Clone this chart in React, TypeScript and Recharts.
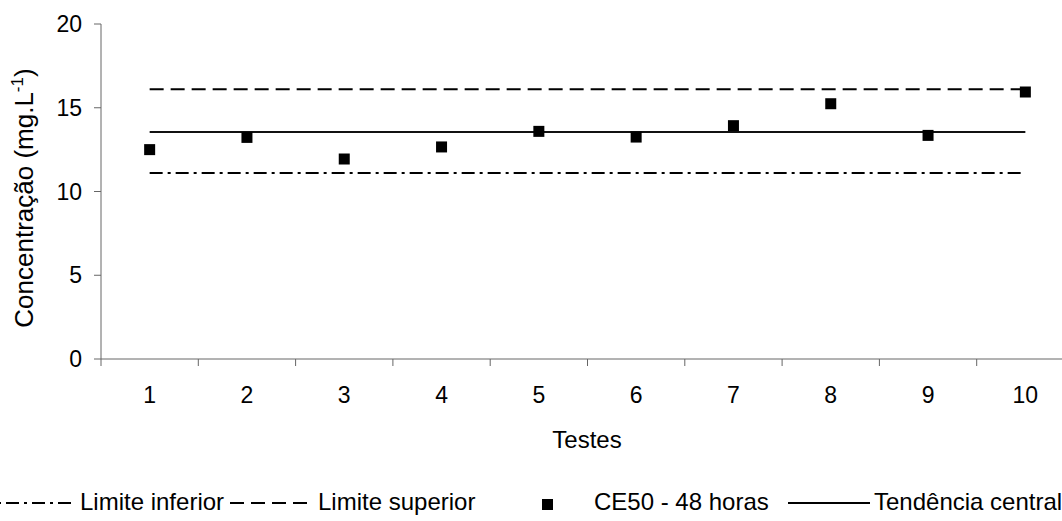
import React from "react";
import { ComposedChart, Line, XAxis, YAxis } from "recharts";

const testes = [1, 2, 3, 4, 5, 6, 7, 8, 9, 10];
const ce50 = [12.5, 13.23, 11.94, 12.66, 13.59, 13.25, 13.93, 15.24, 13.35, 15.94];
const limiteInferior = [11.1, 11.1, 11.1, 11.1, 11.1, 11.1, 11.1, 11.1, 11.1, 11.1];
const limiteSuperior = [16.1, 16.1, 16.1, 16.1, 16.1, 16.1, 16.1, 16.1, 16.1, 16.1];
const tendenciaCentral = [13.55, 13.55, 13.55, 13.55, 13.55, 13.55, 13.55, 13.55, 13.55, 13.55];
const yTicks = [0, 5, 10, 15, 20];
// tick marks sit between the tests, like the original
const xBounds = [0.5, 1.5, 2.5, 3.5, 4.5, 5.5, 6.5, 7.5, 8.5, 9.5, 10.5];

const data = testes.map((t, i) => ({
  teste: t,
  ce50: ce50[i],
  inferior: limiteInferior[i],
  superior: limiteSuperior[i],
  central: tendenciaCentral[i],
}));

const FONT = "'Liberation Sans', Arial, sans-serif";
const FS = 23;
const HALF_BAND = 48.65;
const DASH_DOT = "13 5 3 5";
const DASHED = "14 7";

const XTick = (props: any) => {
  const { x, y, index } = props;
  if (index >= testes.length) return <g />;
  return (
    <text x={x + HALF_BAND} y={y} dy="0.71em" textAnchor="middle" fontSize={FS} fontFamily={FONT} fill="#000">
      {testes[index]}
    </text>
  );
};

const SquareDot = (props: any) => {
  const { cx, cy, index } = props;
  if (cx == null || cy == null) return <g key={index} />;
  return <rect key={index} x={cx - 5.5} y={cy - 5.5} width={11} height={11} fill="#000" />;
};

const YTitle = () => (
  <text
    x={24}
    y={198}
    dy="0.35em"
    transform="rotate(-90, 24, 198)"
    textAnchor="middle"
    fontSize={26}
    fontFamily={FONT}
    fill="#000"
  >
    Concentração (mg.L
    <tspan fontSize={17} dy={-10}>-1</tspan>
    <tspan dy={10}>)</tspan>
  </text>
);

const XTitle = () => (
  <text x={587} y={448} textAnchor="middle" fontSize={24} fontFamily={FONT} fill="#000">
    Testes
  </text>
);

const Legenda = () => (
  <svg width={1062} height={60} style={{ position: "absolute", left: 0, top: 470 }}>
    <g fontFamily={FONT} fontSize={24} fill="#000">
      <line x1={-20} y1={33} x2={76} y2={33} stroke="#000" strokeWidth={2} strokeDasharray={DASH_DOT} />
      <text x={80} y={40}>Limite inferior</text>
      <line x1={230} y1={33} x2={313} y2={33} stroke="#000" strokeWidth={2} strokeDasharray={DASHED} />
      <text x={318} y={40}>Limite superior</text>
      <rect x={542} y={29} width={11} height={11} fill="#000" />
      <text x={594} y={40}>CE50 - 48 horas</text>
      <line x1={788} y1={33} x2={870} y2={33} stroke="#000" strokeWidth={2} />
      <text x={874} y={40}>Tendência central</text>
    </g>
  </svg>
);

export default function App() {
  return (
    <div style={{ position: "absolute", left: 0, top: 0, width: 1062, height: 521, overflow: "hidden", background: "#fff" }}>
      <ComposedChart width={1090} height={521} data={data} margin={{ top: 24, right: 16, bottom: 100, left: 0 }}>
        <XAxis
          dataKey="teste"
          type="number"
          domain={[0.5, 10.5]}
          ticks={xBounds}
          interval={0}
          height={62}
          tickSize={7}
          tickMargin={21}
          stroke="#666"
          tick={<XTick />}
          label={{ content: <XTitle /> }}
        />
        <YAxis
          domain={[0, 20]}
          ticks={yTicks}
          width={101}
          tickSize={7}
          tickMargin={12}
          stroke="#666"
          tick={{ fill: "#000", fontSize: FS, fontFamily: FONT }}
          label={{ content: <YTitle /> }}
        />
        <Line dataKey="inferior" stroke="#000" strokeWidth={2} strokeDasharray={DASH_DOT} dot={false} isAnimationActive={false} />
        <Line dataKey="superior" stroke="#000" strokeWidth={2} strokeDasharray={DASHED} dot={false} isAnimationActive={false} />
        <Line dataKey="central" stroke="#111" strokeWidth={2} dot={false} isAnimationActive={false} />
        <Line dataKey="ce50" stroke="none" dot={<SquareDot />} activeDot={false} isAnimationActive={false} />
      </ComposedChart>
      <Legenda />
    </div>
  );
}
